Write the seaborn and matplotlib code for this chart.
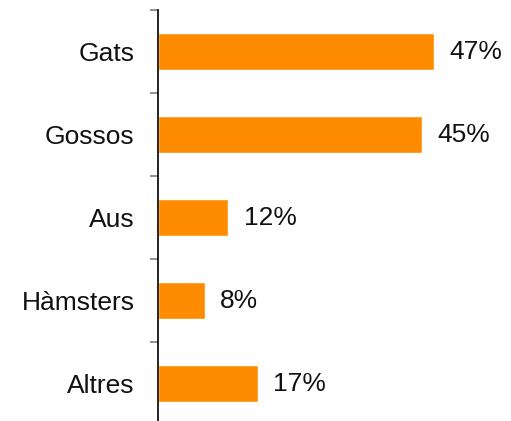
import matplotlib
matplotlib.use("Agg")
import pandas as pd
import seaborn as sns
import matplotlib.pyplot as plt

# Chart data
animals = ["Gats", "Gossos", "Aus", "Hàmsters", "Altres"]
shares = [47, 45, 12, 8, 17]
labels = ["47%", "45%", "12%", "8%", "17%"]

df = pd.DataFrame({"Animal": animals, "Percent": shares})

sns.set_style("white")
plt.rcParams["font.family"] = ["Liberation Sans", "DejaVu Sans"]

fig = plt.figure(figsize=(5.11, 4.21), dpi=100)
ax = fig.add_axes([158 / 511, -4 / 421, 352 / 511, 415 / 421])

sns.barplot(data=df, y="Animal", x="Percent", color="#FF8C00", saturation=1,
            width=0.45, orient="h", ax=ax)

for i, txt in enumerate(labels):
    ax.annotate(txt, (shares[i], i), xytext=(11, 0), textcoords="offset points",
                va="center", ha="left", fontsize=19, color="#111111")

ax.set_xlim(0, 60)
ax.set_ylim(4.5, -0.5)
ax.set_xlabel("")
ax.set_ylabel("")
ax.set_xticks([])

# category labels without tick marks, boundary ticks as minor ticks
ax.tick_params(axis="y", which="major", left=True, length=0, pad=17,
               labelsize=19, labelcolor="#111111")
ax.set_yticks([-0.5, 0.5, 1.5, 2.5, 3.5], minor=True)
ax.tick_params(axis="y", which="minor", left=True, length=6, width=1.2,
               color="#808080", direction="out")

sns.despine(ax=ax, top=True, right=True, bottom=True)
ax.spines["left"].set_color("black")
ax.spines["left"].set_linewidth(1.2)

fig.savefig("out.png", dpi=100)
